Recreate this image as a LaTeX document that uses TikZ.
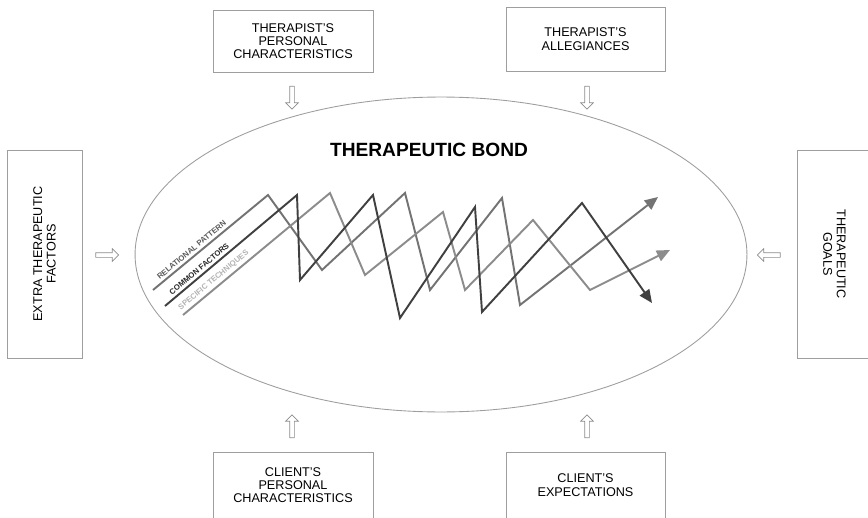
\documentclass[tikz,border=0pt]{standalone}
\usepackage{fontspec}
\setmainfont{Liberation Sans}
\usetikzlibrary{shapes.geometric,shapes.arrows,arrows.meta}

\begin{document}
\begin{tikzpicture}[x=0.02cm,y=-0.02cm,
    factor/.style={draw=black!38,line width=0.5pt,align=center,inner sep=1pt,
      font=\fontsize{7.2}{7.6}\selectfont},
    influence/.style={single arrow,draw=black!45,line width=0.4pt,fill=white,inner xsep=0pt,inner ysep=0.04cm,
      minimum height=0.46cm,single arrow head extend=0.08cm},
    strand/.style={line width=1.1pt,-{Triangle[length=7.5pt,width=6.5pt]}},
    tag/.style={sloped,above=1.5pt,inner sep=0pt,font=\fontsize{4.4}{5}\selectfont\bfseries}]
  \useasboundingbox (0,0) rectangle (868,517);
  \node[ellipse,draw=black!38,line width=0.5pt,minimum width=12.24cm,minimum height=6.3cm] (bond) at (441,254.5) {};
  \node[font=\fontsize{10.9}{12}\selectfont\bfseries] (title) at (429,150) {THERAPEUTIC BOND};

  \node[factor,minimum width=3.2cm,minimum height=1.24cm] (tpc) at (293,41) {THERAPIST'S\\PERSONAL\\CHARACTERISTICS};
  \node[factor,minimum width=3.18cm,minimum height=1.28cm] (ta) at (585.5,39) {THERAPIST'S\\ALLEGIANCES};
  \node[factor,minimum width=3.2cm,minimum height=1.32cm] (cpc) at (293,485) {CLIENT'S\\PERSONAL\\CHARACTERISTICS};
  \node[factor,minimum width=3.18cm,minimum height=1.32cm] (ce) at (585.5,485) {CLIENT'S\\EXPECTATIONS};
  \node[factor,rotate=90,minimum width=4.16cm,minimum height=1.5cm] (etf) at (44.5,254) {EXTRA THERAPEUTIC\\FACTORS};
  \node[factor,rotate=-90,minimum width=4.16cm,minimum height=1.5cm] (tg) at (834.5,254) {THERAPEUTIC\\GOALS};

  \node[influence,rotate=-90] (tpcIn) at (292,96.5) {};
  \node[influence,rotate=-90] (taIn) at (587,96.5) {};
  \node[influence,rotate=90] (cpcIn) at (292,427.5) {};
  \node[influence,rotate=90] (ceIn) at (587,427.5) {};
  \node[influence] (etfIn) at (106,255) {};
  \node[influence,rotate=180] (tgIn) at (770,255) {};

  \draw[strand,black!55] (153,290) -- node[tag,pos=0.37,text=black!65] {RELATIONAL PATTERN} (268,195)
    -- (322,270) -- (405,193) -- (430,290) -- (502,198) -- (520,305) -- (658,197);
  \draw[strand,black!45] (183,315) -- node[tag,pos=0.24,text=black!30] {SPECIFIC TECHNIQUES} (330,193)
    -- (365,275) -- (443,212) -- (465,290) -- (533,220) -- (590,290) -- (670,250);
  \draw[strand,black!75] (165,306) -- node[tag,pos=0.29,text=black!85] {COMMON FACTORS} (297,195)
    -- (300,280) -- (373,195) -- (400,318) -- (475,207) -- (482,312) -- (582,203) -- (652,303);
\end{tikzpicture}
\end{document}
